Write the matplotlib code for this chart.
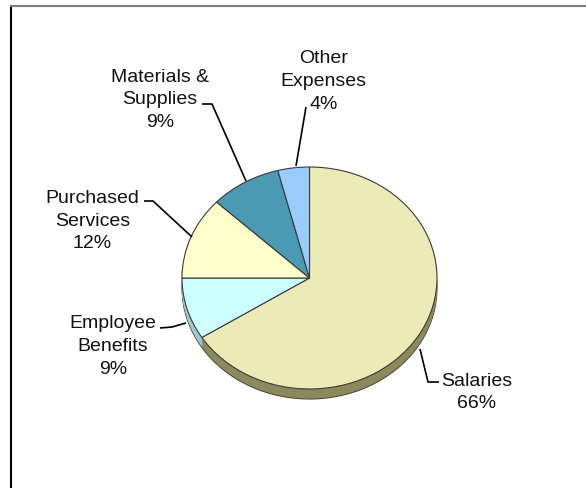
import matplotlib.pyplot as plt

plt.rcParams["font.family"] = ["Liberation Sans", "DejaVu Sans"]

# expense categories, clockwise from 12 o'clock
categories = ["Salaries", "Employee\nBenefits", "Purchased\nServices",
              "Materials &\nSupplies", "Other\nExpenses"]
shares = [66, 9, 12, 9, 4]

top_colors = ["#ECEBB8", "#CCFFFF", "#FFFFCC", "#4B9AB4", "#99CCFF"]
side_colors = ["#8C8A5C", "#9FC8D2", "#B8B88A", "#366F82", "#6E93B8"]

W, H = 586, 489
fig = plt.figure(figsize=(W / 100, H / 100), dpi=100)

# pie geometry in pixels
cx, cy = 309.5, 279.0
rx, ry = 127.5, 111.0
depth = 10.0
pad = 1.1
dz = depth / ry

left = cx - pad * rx
top = cy - pad * ry
width = 2 * pad * rx
height = (2 * pad + dz) * ry
ax = fig.add_axes([left / W, 1 - (top + height) / H, width / W, height / H])

# side of the disc: stacked copies shifted downward
n_layers = 12
for i in range(n_layers, 0, -1):
    off = -dz * i / n_layers
    wedges, _ = ax.pie(shares, colors=side_colors, startangle=90,
                       counterclock=False, center=(0, off),
                       wedgeprops=dict(linewidth=0))
    if i == n_layers:
        for w in wedges:
            w.set_edgecolor("#4A4A3A")
            w.set_linewidth(0.8)

# top face
ax.pie(shares, colors=top_colors, startangle=90, counterclock=False,
       wedgeprops=dict(edgecolor="#3A3A3A", linewidth=0.8))

ax.set_aspect("auto")
ax.set_xlim(-pad, pad)
ax.set_ylim(-pad - dz, pad)
ax.axis("off")

# overlay for labels, leader lines and frame (pixel coordinates)
ov = fig.add_axes([0, 0, 1, 1], facecolor="none")
ov.set_xlim(0, W)
ov.set_ylim(H, 0)
ov.axis("off")

label_pos = [(477, 392.5), (113, 346.5), (92.5, 221), (160, 100), (323.5, 81.5)]
leaders = [
    [(420, 350), (428, 383), (439, 383)],
    [(160, 329), (172, 328), (186, 324)],
    [(144, 202), (153, 202), (192, 238)],
    [(202, 105), (212, 105), (246, 182)],
    [(306, 108), (296, 167)],
]

for name, val, (x, y), pts in zip(categories, shares, label_pos, leaders):
    ov.text(x, y, f"{name}\n{val}%", ha="center", va="center",
            fontsize=14, linespacing=1.45, color="#111111")
    xs, ys = zip(*pts)
    ov.plot(xs, ys, color="black", lw=1.2, solid_capstyle="butt")

ov.plot([11, 11], [7, H], color="black", lw=1.5)
ov.plot([11, W], [7, 7], color="#808080", lw=1.5)

fig.savefig("out.png", dpi=100)
